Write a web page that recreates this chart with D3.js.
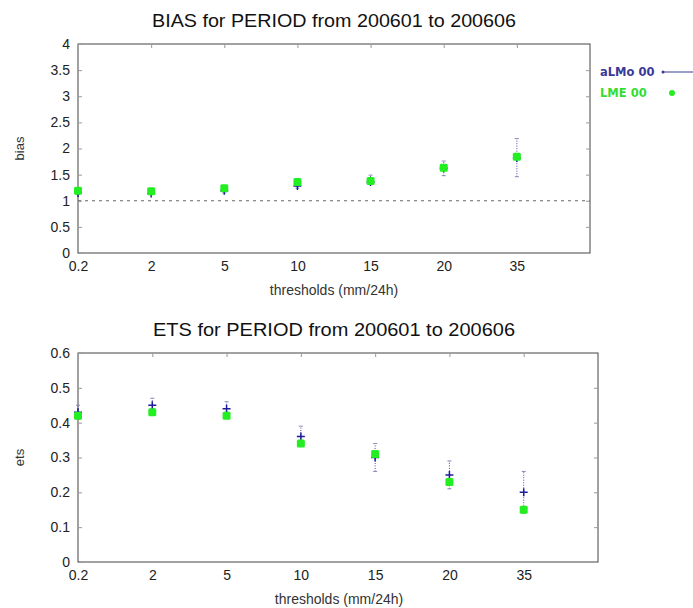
<!DOCTYPE html>
<html><head><meta charset="utf-8">
<script src="https://cdn.jsdelivr.net/npm/d3@7"></script>
<style>body{margin:0;background:#fff}svg{display:block}</style>
</head><body>
<svg id="c" width="693" height="608"></svg>
<script>
const thresholds = ["0.2","2","5","10","15","20","35"];
const biasTicks = [0,0.5,1,1.5,2,2.5,3,3.5,4];
const etsTicks = [0,0.1,0.2,0.3,0.4,0.5,0.6];
const biasALMo = [1.15,1.14,1.19,1.28,1.36,1.62,1.82];
const biasALMoLo = [1.12,1.12,1.15,1.24,1.31,1.48,1.46];
const biasALMoHi = [1.22,1.22,1.28,1.40,1.49,1.76,2.19];
const biasLME = [1.19,1.18,1.24,1.36,1.38,1.63,1.84];
const etsALMo = [0.43,0.45,0.44,0.36,0.30,0.25,0.20];
const etsALMoLo = [0.41,0.44,0.43,0.34,0.26,0.21,0.14];
const etsALMoHi = [0.45,0.47,0.46,0.39,0.34,0.29,0.26];
const etsLME = [0.42,0.43,0.42,0.34,0.31,0.23,0.15];
const seriesNames = ["aLMo 00","LME 00"];

const svg = d3.select("#c");
const FONT = "'Liberation Sans', Arial, sans-serif";
const BLUE = "#1c1c9c", GREEN = "#22ee22";

function panel(o){
  const x = d3.scaleLinear().domain([0,7]).range([o.x0,o.x1]);
  const y = d3.scaleLinear().domain([o.ticks[0],o.ticks[o.ticks.length-1]]).range([o.y1,o.y0]);
  const g = svg.append("g");
  g.append("rect").attr("x",o.x0).attr("y",o.y0).attr("width",o.x1-o.x0).attr("height",o.y1-o.y0)
    .attr("fill","none").attr("stroke","#444").attr("stroke-width",1);
  const ya = g.append("g").attr("transform",`translate(${o.x0},0)`)
    .call(d3.axisLeft(y).tickValues(o.ticks).tickSize(-4).tickPadding(8).tickFormat(d3.format("")));
  ya.select(".domain").remove();
  ya.selectAll("line").attr("stroke","#999");
  ya.selectAll("text").attr("font-family",FONT).attr("font-size",14).attr("fill","#222");
  const yr = g.append("g").attr("transform",`translate(${o.x1},0)`)
    .call(d3.axisRight(y).tickValues(o.ticks.slice(1,-1)).tickSize(-4).tickFormat(""));
  yr.select(".domain").remove(); yr.selectAll("line").attr("stroke","#999");
  const xa = g.append("g").attr("transform",`translate(0,${o.y1})`)
    .call(d3.axisBottom(x).tickValues(d3.range(thresholds.length)).tickSize(0).tickPadding(8).tickFormat(i=>thresholds[i]));
  xa.select(".domain").remove();
  xa.selectAll("text").attr("font-family",FONT).attr("font-size",14).attr("fill","#222");
  const xt = g.append("g").attr("transform",`translate(0,${o.y0})`)
    .call(d3.axisTop(x).tickValues(d3.range(1,thresholds.length)).tickSize(-4).tickFormat(""));
  xt.select(".domain").remove(); xt.selectAll("line").attr("stroke","#999");
  svg.append("text").attr("x",334).attr("y",o.y0-17).attr("text-anchor","middle")
    .attr("font-family",FONT).attr("font-size",18.5).attr("fill","#111")
    .attr("textLength",o.tw).attr("lengthAdjust","spacingAndGlyphs").text(o.title);
  svg.append("text").attr("x",o.xlc).attr("y",o.y1+42).attr("text-anchor","middle")
    .attr("font-family",FONT).attr("font-size",14).attr("fill","#333").text("thresholds (mm/24h)");
  svg.append("text").attr("transform",`translate(24,${(o.y0+o.y1)/2}) rotate(-90)`).attr("text-anchor","middle")
    .attr("font-family",FONT).attr("font-size",13).attr("fill","#333").text(o.ylab);
  if(o.ref!==undefined){
    g.append("line").attr("x1",o.x0).attr("x2",o.x1).attr("y1",y(o.ref)).attr("y2",y(o.ref))
      .attr("stroke","#666").attr("stroke-dasharray","3,4");
  }
  const idx = d3.range(thresholds.length);
  g.selectAll(".eb").data(idx).enter().append("line")
    .attr("x1",i=>x(i)).attr("x2",i=>x(i)).attr("y1",i=>y(o.lo[i])).attr("y2",i=>y(o.hi[i]))
    .attr("stroke","#4a4aa8").attr("stroke-width",1).attr("stroke-dasharray","1,1.5");
  ["lo","hi"].forEach(k=>{
    g.selectAll(".cap"+k).data(idx).enter().append("line")
      .attr("x1",i=>x(i)-2).attr("x2",i=>x(i)+2).attr("y1",i=>y(o[k][i])).attr("y2",i=>y(o[k][i]))
      .attr("stroke","#8888bb").attr("stroke-width",1);
  });
  g.selectAll(".pl").data(idx).enter().append("path")
    .attr("d",i=>{const cx=x(i),cy=y(o.a[i]);return `M${cx-4},${cy}H${cx+4}M${cx},${cy-4}V${cy+4}`;})
    .attr("stroke",BLUE).attr("stroke-width",1.5).attr("fill","none");
  g.selectAll(".sq").data(idx).enter().append("rect")
    .attr("x",i=>x(i)-4).attr("y",i=>y(o.b[i])-4).attr("width",8).attr("height",8).attr("rx",1.5)
    .attr("fill",GREEN);
}

panel({x0:78,x1:590,y0:44,y1:253,ticks:biasTicks,title:"BIAS for PERIOD from 200601 to 200606",ylab:"bias",
  a:biasALMo,lo:biasALMoLo,hi:biasALMoHi,b:biasLME,ref:1,tw:364,xlc:334});
panel({x0:78,x1:598,y0:353,y1:562,ticks:etsTicks,title:"ETS for PERIOD from 200601 to 200606",ylab:"ets",
  a:etsALMo,lo:etsALMoLo,hi:etsALMoHi,b:etsLME,tw:362,xlc:339});

const lg = svg.append("g");
lg.append("text").attr("x",600).attr("y",76).attr("font-family","'DejaVu Sans', sans-serif").attr("font-weight","bold")
  .attr("font-size",11.5).attr("fill","#3a3a96").text(seriesNames[0]);
lg.append("line").attr("x1",663).attr("x2",693).attr("y1",72).attr("y2",72).attr("stroke","#3a3a96").attr("stroke-width",1);
lg.append("circle").attr("cx",663).attr("cy",72).attr("r",1.5).attr("fill","#3a3a96");
lg.append("text").attr("x",600).attr("y",97).attr("font-family","'DejaVu Sans', sans-serif").attr("font-weight","bold")
  .attr("font-size",11.5).attr("fill","#33dd33").text(seriesNames[1]);
lg.append("circle").attr("cx",672).attr("cy",93).attr("r",3).attr("fill","#22ee22");
</script>
</body></html>
